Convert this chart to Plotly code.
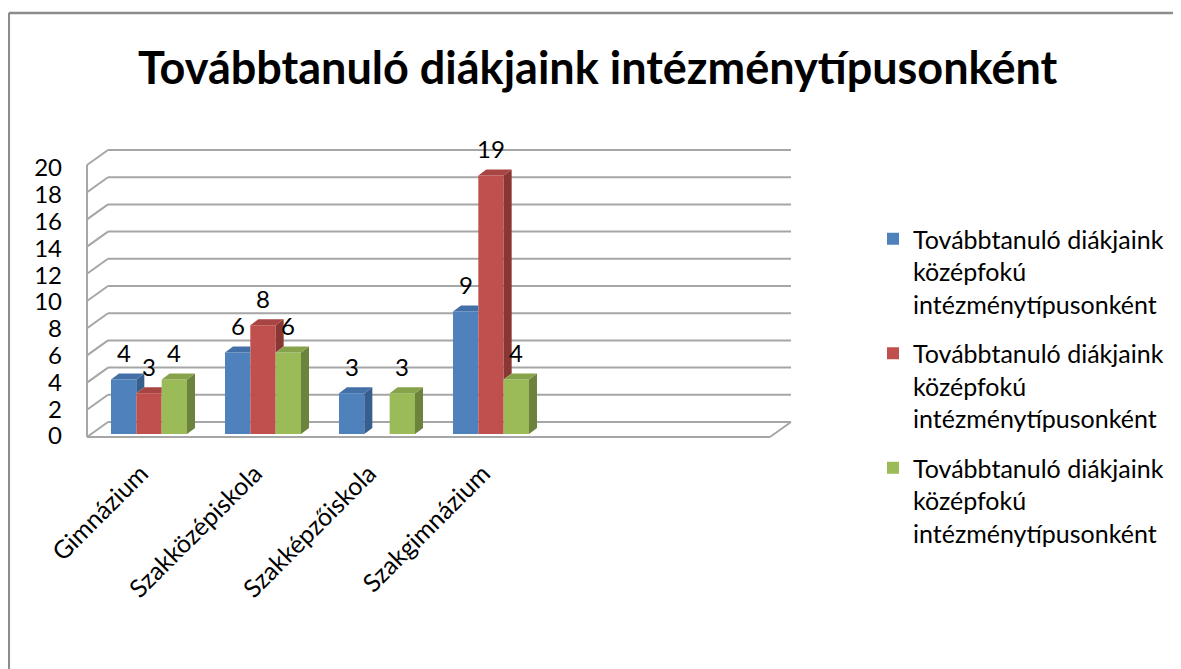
import plotly.graph_objects as go

# ---------------- data ----------------
categories = ["Gimnázium", "Szakközépiskola", "Szakképzőiskola", "Szakgimnázium", "", ""]
series_name = "Továbbtanuló diákjaink<br>középfokú<br>intézménytípusonként"
blue_values = [4, 6, 3, 9, None, None]
red_values = [3, 8, None, 19, None, None]
green_values = [4, 6, 3, 4, None, None]
y_ticks = [0, 2, 4, 6, 8, 10, 12, 14, 16, 18, 20]
title_text = "Továbbtanuló diákjaink intézménytípusonként"

# ---------------- styling / geometry ----------------
W, H = 1181, 669
FONT = "Lato"
OFF = 8  # page body margin


def px(x):
    return (x - OFF) / W


def py(y):
    return 1 - (y - OFF) / H


# plot area (pixels, page coordinates)
X_LEFT, X_RIGHT = 92, 776          # category band
Y_BASE, Y_TOP = 434, 162           # value 0 and value 20 of bars
Y_MAX = 20
PX_PER_UNIT = (Y_BASE - Y_TOP) / Y_MAX
CAT_PX = (X_RIGHT - X_LEFT) / len(categories)

BARGAP = 1 / 3
bw = (1 - BARGAP) / 3
DDX = 8 / CAT_PX                   # depth offset of 3D faces (data units)
DDY = 6 / PX_PER_UNIT

colors = [
    ("#4F81BD", "#4470A8", "#365E8E"),
    ("#C0504D", "#A84441", "#8A3734"),
    ("#9BBB59", "#86A34B", "#6B833C"),
]
series_vals = [blue_values, red_values, green_values]

fig = go.Figure()

# front faces
for i, vals in enumerate(series_vals):
    fig.add_trace(go.Bar(
        x=list(range(len(categories))), y=vals, name=series_name,
        marker=dict(color=colors[i][0], line=dict(width=0)),
        legendgroup=f"g{i}", showlegend=True,
        hoverinfo="y",
    ))

# 3D side / top faces, computed from values
for i, vals in enumerate(series_vals):
    sx, sy, tx, ty = [], [], [], []
    for k, v in enumerate(vals):
        if v is None:
            continue
        xl = k + (i - 1) * bw - bw / 2
        xr = xl + bw
        nv = series_vals[i + 1][k] if i < 2 else None
        nb = nv if nv is not None else 0
        if nb < v:
            sx += [xr, xr + DDX, xr + DDX, xr, xr, None]
            sy += [nb, nb + DDY, v + DDY, v, nb, None]
        if nv is not None and nv > v:
            tx += [xl, xl + DDX, xr, xr, xl, None]
        else:
            tx += [xl, xl + DDX, xr + DDX, xr, xl, None]
        ty += [v, v + DDY, v + DDY, v, v, None]
    fig.add_trace(go.Scatter(x=sx, y=sy, mode="lines", fill="toself",
                             fillcolor=colors[i][2], line=dict(width=0),
                             hoverinfo="skip", showlegend=False))
    fig.add_trace(go.Scatter(x=tx, y=ty, mode="lines", fill="toself",
                             fillcolor=colors[i][1], line=dict(width=0),
                             hoverinfo="skip", showlegend=False))

# data labels
annotations = []
for i, vals in enumerate(series_vals):
    for k, v in enumerate(vals):
        if v is None:
            continue
        annotations.append(dict(
            x=k + (i - 1) * bw, y=v, xref="x", yref="y", text=str(v),
            showarrow=False, yshift=27, font=dict(family=FONT, size=24, color="black"),
        ))

# title
annotations.append(dict(
    x=px(598), y=py(67), xref="paper", yref="paper", text=f"<b>{title_text}</b>",
    showarrow=False, xanchor="center", yanchor="middle",
    font=dict(family=FONT, size=45, color="black"),
))

# frame: 3D walls, computed from tick values
GRID = "#A6A6A6"
FRONT_X, BACK_X, WALL_RIGHT, FLOOR_RIGHT = 87, 108, 791, 770
FRONT_BASE = 437
BACK_DY = 15


def yf(v):
    return FRONT_BASE - v * PX_PER_UNIT


shapes = []
for v in y_ticks:
    shapes.append(dict(type="line", xref="paper", yref="paper",
                       x0=px(FRONT_X), y0=py(yf(v)), x1=px(BACK_X), y1=py(yf(v) - BACK_DY),
                       line=dict(color=GRID, width=2), layer="below"))
    shapes.append(dict(type="line", xref="paper", yref="paper",
                       x0=px(BACK_X), y0=py(yf(v) - BACK_DY), x1=px(WALL_RIGHT), y1=py(yf(v) - BACK_DY),
                       line=dict(color=GRID, width=2), layer="below"))
shapes.append(dict(type="line", xref="paper", yref="paper",
                   x0=px(FRONT_X), y0=py(yf(0)), x1=px(FRONT_X), y1=py(yf(Y_MAX)),
                   line=dict(color=GRID, width=2), layer="below"))
shapes.append(dict(type="line", xref="paper", yref="paper",
                   x0=px(FRONT_X), y0=py(yf(0)), x1=px(FLOOR_RIGHT), y1=py(yf(0)),
                   line=dict(color=GRID, width=2), layer="below"))
shapes.append(dict(type="line", xref="paper", yref="paper",
                   x0=px(FLOOR_RIGHT), y0=py(yf(0)), x1=px(WALL_RIGHT), y1=py(yf(0) - BACK_DY),
                   line=dict(color=GRID, width=2), layer="below"))
# chart border (top & left)
shapes.append(dict(type="line", xref="paper", yref="paper",
                   x0=px(8.8), y0=py(13), x1=1, y1=py(13),
                   line=dict(color="#8C8C8C", width=2.5)))
shapes.append(dict(type="line", xref="paper", yref="paper",
                   x0=px(8.8), y0=py(13), x1=px(8.8), y1=0,
                   line=dict(color="#8C8C8C", width=2.5)))

LABEL_SHIFT = 8  # rotated category labels sit slightly left of the bar groups
YLAB_BASE, YLAB_TOP = 436, 168   # front-plane positions of the value labels

fig.update_layout(
    template="none",
    width=W, height=H,
    margin=dict(l=0, r=0, t=0, b=0, pad=0, autoexpand=False),
    paper_bgcolor="white", plot_bgcolor="rgba(0,0,0,0)",
    barmode="group", bargap=BARGAP, bargroupgap=0,
    font=dict(family=FONT, size=22, color="black"),
    xaxis=dict(
        domain=[px(X_LEFT), px(X_RIGHT)], range=[-0.5, len(categories) - 0.5],
        showticklabels=False, showgrid=False, zeroline=False, showline=False,
        ticks="", automargin=False, fixedrange=True,
    ),
    xaxis2=dict(
        domain=[px(X_LEFT - LABEL_SHIFT), px(X_RIGHT - LABEL_SHIFT)],
        range=[-0.5, len(categories) - 0.5], anchor="y", side="bottom",
        tickvals=list(range(len(categories))), ticktext=categories,
        tickangle=-45, showgrid=False, zeroline=False, showline=False,
        ticks="outside", ticklen=14, tickcolor="rgba(0,0,0,0)", automargin=False,
        tickfont=dict(family=FONT, size=25, color="black"), fixedrange=True,
    ),
    yaxis=dict(
        domain=[py(Y_BASE), py(Y_TOP)], range=[0, Y_MAX],
        showticklabels=False, showgrid=False, zeroline=False, showline=False,
        ticks="", automargin=False, fixedrange=True,
    ),
    yaxis2=dict(
        domain=[py(YLAB_BASE), py(YLAB_TOP)], range=[0, Y_MAX],
        tickvals=y_ticks, showgrid=False, zeroline=False, showline=False,
        anchor="free", position=px(62), side="left", ticks="", automargin=False,
        tickfont=dict(family=FONT, size=24, color="black"), fixedrange=True,
    ),
    legend=dict(
        x=px(873), y=py(216), xanchor="left", yanchor="top", valign="top",
        font=dict(family=FONT, size=25, color="black"),
        tracegroupgap=14, itemwidth=30, bgcolor="rgba(0,0,0,0)",
    ),
    shapes=shapes,
    annotations=annotations,
    showlegend=True,
)

# invisible traces keep the label axes alive
fig.add_trace(go.Scatter(x=[0], y=[0], xaxis="x2", yaxis="y", mode="markers",
                         marker=dict(opacity=0), hoverinfo="skip", showlegend=False))
fig.add_trace(go.Scatter(x=[0], y=[0], xaxis="x", yaxis="y2", mode="markers",
                         marker=dict(opacity=0), hoverinfo="skip", showlegend=False))

fig.write_html("out.html")
